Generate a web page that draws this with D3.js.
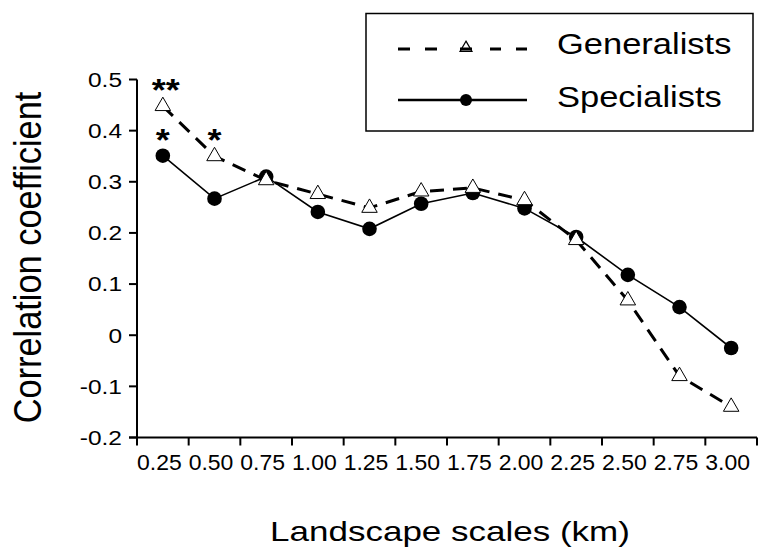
<!DOCTYPE html>
<html>
<head>
<meta charset="utf-8">
<script src="https://cdn.jsdelivr.net/npm/d3@7"></script>
<style>
  html, body { margin: 0; padding: 0; background: #fff; }
  svg { display: block; }
  text { font-family: "Liberation Sans", Arial, sans-serif; fill: #000; }
</style>
</head>
<body>
<svg id="chart" width="758" height="548"></svg>
<script>
const categories = ["0.25","0.50","0.75","1.00","1.25","1.50","1.75","2.00","2.25","2.50","2.75","3.00"];
const generalists = [0.448, 0.350, 0.303, 0.276, 0.249, 0.281, 0.288, 0.264, 0.186, 0.068, -0.080, -0.140];
const specialists = [0.351, 0.267, 0.310, 0.241, 0.208, 0.257, 0.278, 0.248, 0.192, 0.118, 0.055, -0.025];
const yTicks = [-0.2, -0.1, 0, 0.1, 0.2, 0.3, 0.4, 0.5];
const yTickLabels = ["-0.2", "-0.1", "0", "0.1", "0.2", "0.3", "0.4", "0.5"];
const seriesNames = ["Generalists", "Specialists"];
const annotations = [
  { series: "Generalists", index: 0, text: "**" },
  { series: "Specialists", index: 0, text: "*" },
  { series: "Generalists", index: 1, text: "*" }
];
const xTitle = "Landscape scales (km)";
const yTitle = "Correlation coefficient";

(function () {
const svg = d3.select("#chart");
const pLeft = 137, pRight = 757, pTop = 79.5, pBottom = 437.5;

const x = d3.scaleBand().domain(categories).range([pLeft, pRight]).padding(0);
const y = d3.scaleLinear().domain([-0.2, 0.5]).range([pBottom, pTop]);
const cx = c => x(c) + x.bandwidth() / 2;

// text helper: vertically compressed text like the reference
function addText(g, tx, ty, str, size, sy, anchor, rot, extra) {
  const t = g.append("text")
    .attr("transform", `translate(${tx},${ty}) scale(1,${sy})` + (rot ? ` rotate(${rot})` : ""))
    .attr("text-anchor", anchor || "start")
    .attr("font-size", size)
    .text(str);
  if (extra) extra(t);
  return t;
}

// Y axis
const yAxis = svg.append("g");
yAxis.append("line").attr("x1", pLeft).attr("x2", pLeft).attr("y1", y(0.5)).attr("y2", y(-0.2) + 7)
  .attr("stroke", "#000").attr("stroke-width", 2);
yTicks.forEach((t, i) => {
  yAxis.append("line").attr("x1", pLeft - 8).attr("x2", pLeft).attr("y1", y(t)).attr("y2", y(t))
    .attr("stroke", "#000").attr("stroke-width", 2);
  addText(yAxis, pLeft - 15, y(t), yTickLabels[i], 24.5, 0.84, "end", 0,
    s => s.attr("dy", "0.36em"));
});

// X axis
const xAxis = svg.append("g");
xAxis.append("line").attr("x1", pLeft - 8).attr("x2", pRight).attr("y1", pBottom).attr("y2", pBottom)
  .attr("stroke", "#000").attr("stroke-width", 2);
const bounds = categories.map(c => x(c)).concat([x.range()[1]]);
bounds.forEach(b => {
  xAxis.append("line").attr("x1", b).attr("x2", b).attr("y1", pBottom).attr("y2", pBottom + 8)
    .attr("stroke", "#000").attr("stroke-width", 2);
});
categories.forEach(c => {
  addText(xAxis, cx(c) - 3.5, pBottom + 32.5, c, 23, 0.93, "middle");
});

// Titles
addText(svg, 450, 541, xTitle, 35, 0.8, "middle");
addText(svg, 41, (pTop + pBottom) / 2 - 1, yTitle, 39.5, 0.87, "middle", -90);

// Specialists (solid, filled circles)
const line = d3.line().x((d, i) => cx(categories[i])).y(d => y(d));
svg.append("path").datum(specialists).attr("d", line)
  .attr("fill", "none").attr("stroke", "#000").attr("stroke-width", 1.6);
svg.append("g").selectAll("circle").data(specialists).join("circle")
  .attr("cx", (d, i) => cx(categories[i])).attr("cy", d => y(d)).attr("r", 7.3).attr("fill", "#000");

// Generalists (dashed, open triangles)
svg.append("path").datum(generalists).attr("d", line)
  .attr("fill", "none").attr("stroke", "#000").attr("stroke-width", 3)
  .attr("stroke-dasharray", "14,9");
const tri = d3.symbol().type(d3.symbolTriangle).size(104);
svg.append("g").selectAll("path").data(generalists).join("path")
  .attr("d", tri)
  .attr("transform", (d, i) => `translate(${cx(categories[i])},${y(d)})`)
  .attr("fill", "#fff").attr("stroke", "#000").attr("stroke-width", 1);

// Significance annotations
annotations.forEach(a => {
  const vals = a.series === "Generalists" ? generalists : specialists;
  const off = a.text.length > 1 ? 3 : 0;
  addText(svg, cx(categories[a.index]) + off, y(vals[a.index]) - 5, a.text, 36, 0.85, "middle", 0,
    s => s.attr("font-weight", "bold"));
});

// Legend
const lg = svg.append("g");
lg.append("rect").attr("x", 366).attr("y", 13.5).attr("width", 387).attr("height", 117.5)
  .attr("fill", "#fff").attr("stroke", "#000").attr("stroke-width", 1.5);
const legY = [49, 100];
const legBase = [54, 106.5];
lg.append("path").attr("d", d3.symbol().type(d3.symbolTriangle).size(62))
  .attr("transform", `translate(466,${legY[0] - 1})`).attr("fill", "#fff").attr("stroke", "#000").attr("stroke-width", 1.2);
lg.append("line").attr("x1", 398).attr("x2", 438).attr("y1", legY[0]).attr("y2", legY[0])
  .attr("stroke", "#000").attr("stroke-width", 3).attr("stroke-dasharray", "12,15");
lg.append("line").attr("x1", 460).attr("x2", 472).attr("y1", legY[0]).attr("y2", legY[0])
  .attr("stroke", "#000").attr("stroke-width", 3);
lg.append("line").attr("x1", 527).attr("x2", 489).attr("y1", legY[0]).attr("y2", legY[0])
  .attr("stroke", "#000").attr("stroke-width", 3).attr("stroke-dasharray", "11,15");
lg.append("line").attr("x1", 398).attr("x2", 527).attr("y1", legY[1]).attr("y2", legY[1])
  .attr("stroke", "#000").attr("stroke-width", 2.5);
lg.append("circle").attr("cx", 466).attr("cy", legY[1]).attr("r", 6).attr("fill", "#000");
seriesNames.forEach((n, i) => {
  addText(lg, 557, legBase[i], n, 34.5, 0.85, "start");
});
})();
</script>
</body>
</html>
